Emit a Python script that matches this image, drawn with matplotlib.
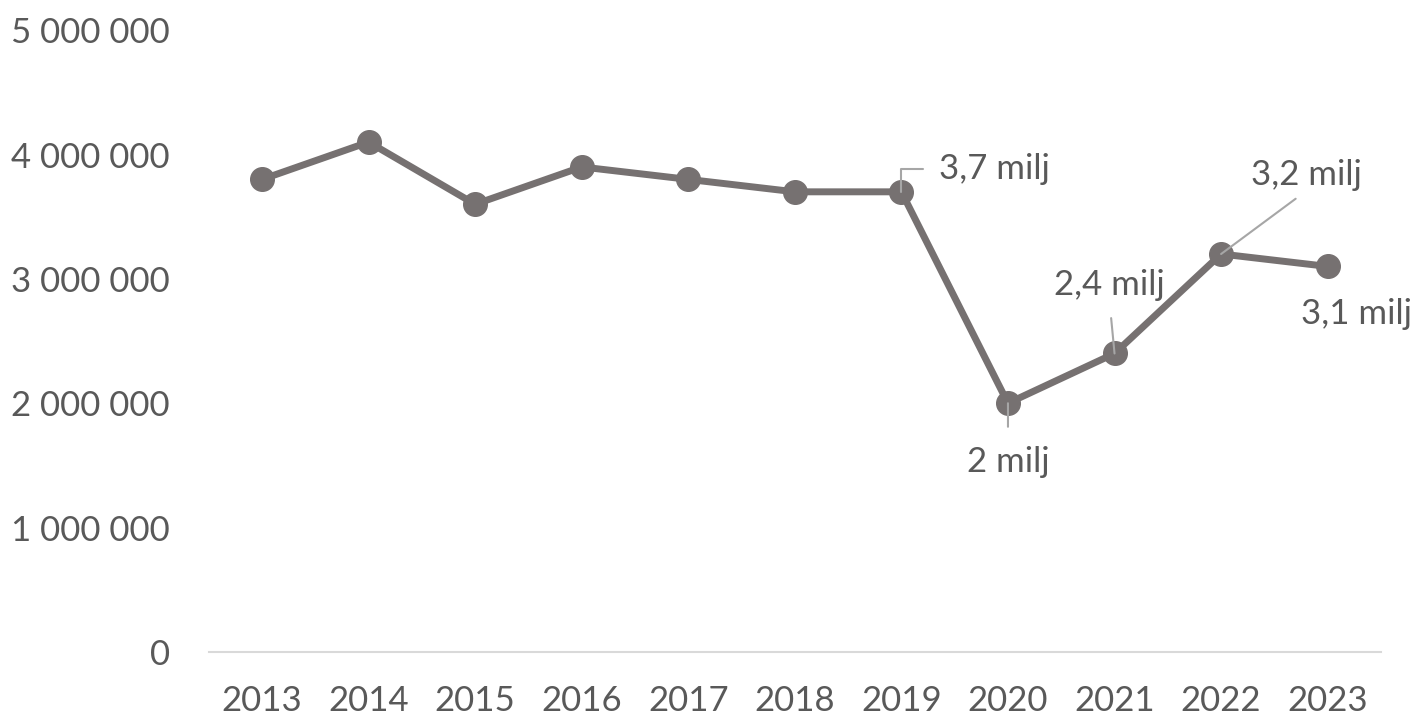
import matplotlib
matplotlib.use("Agg")
import matplotlib.pyplot as plt

# Data
years = [2013, 2014, 2015, 2016, 2017, 2018, 2019, 2020, 2021, 2022, 2023]
values = [3800000, 4100000, 3600000, 3900000, 3800000, 3700000, 3700000,
          2000000, 2400000, 3200000, 3100000]
y_ticks = [0, 1000000, 2000000, 3000000, 4000000, 5000000]

line_color = "#767171"
text_color = "#595959"
leader_color = "#a6a6a6"

plt.rcParams["font.family"] = ["Lato", "DejaVu Sans"]

fig = plt.figure(figsize=(14.2, 7.18), dpi=100)
ax = fig.add_axes([0.147, 0.092, 0.8255, 0.866])

x = list(range(len(years)))
ax.plot(x, values, color=line_color, lw=5, marker="o", markersize=17,
        solid_joinstyle="round", zorder=3)

ax.set_xlim(-0.5, len(years) - 0.5)
ax.set_ylim(0, 5000000)
ax.set_xticks(x)
ax.set_xticklabels([str(y) for y in years])
ax.set_yticks(y_ticks)
ax.set_yticklabels([f"{v:,.0f}".replace(",", " ") for v in y_ticks])
ax.tick_params(axis="x", length=0, pad=24, labelsize=25, labelcolor=text_color)
ax.tick_params(axis="y", length=0, pad=28, labelsize=25, labelcolor=text_color)

for side in ["top", "right", "left"]:
    ax.spines[side].set_visible(False)
ax.spines["bottom"].set_color("#d9d9d9")
ax.spines["bottom"].set_linewidth(1.5)


def milj(v):
    s = f"{v / 1e6:.1f}".replace(".", ",")
    if s.endswith(",0"):
        s = s[:-2]
    return s + " milj"


# labels: index, offset in pixels, alignment, leader line settings
labels = [
    (6, (38, 23), "left", dict(connectionstyle="angle,angleA=0,angleB=90,rad=0",
                               relpos=(0, 0.5), shrinkA=10, shrinkB=0)),
    (7, (0, -59), "center", dict(relpos=(0.5, 1), shrinkA=12, shrinkB=0)),
    (8, (-5, 68), "center", dict(relpos=(0.5, 0), shrinkA=10, shrinkB=0)),
    (9, (85, 79), "center", dict(relpos=(0.5, 0), shrinkA=6, shrinkB=0)),
    (10, (29, -48), "center", None),
]
for i, off, ha, arrow in labels:
    props = None
    if arrow is not None:
        props = dict(arrowstyle="-", color=leader_color, lw=1.5, **arrow)
    ax.annotate(milj(values[i]), xy=(x[i], values[i]), xytext=off,
                textcoords="offset pixels", ha=ha, va="center",
                fontsize=25, color=text_color, arrowprops=props, zorder=4)

fig.savefig("out.png", dpi=100)
